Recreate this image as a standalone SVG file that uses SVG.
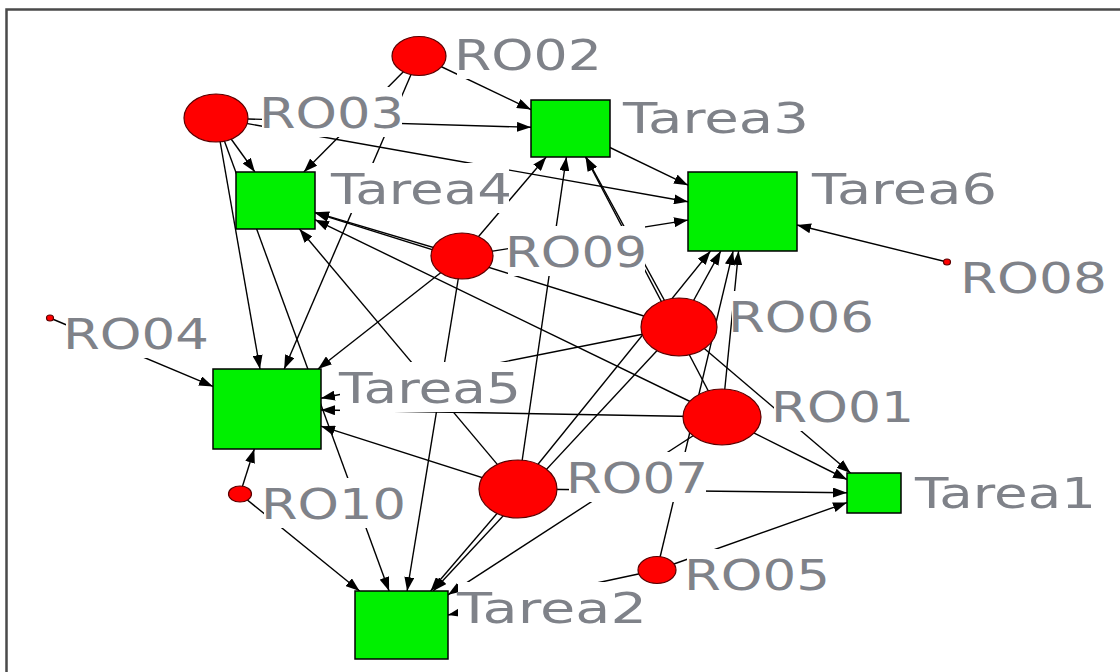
<svg xmlns="http://www.w3.org/2000/svg" width="1120" height="672" viewBox="0 0 1120 672">
<defs>
<marker id="ah" markerWidth="14" markerHeight="10" refX="14" refY="5" orient="auto" markerUnits="userSpaceOnUse"><path d="M0,0 L14,5 L0,10 z" fill="#000"/></marker>
<style>
.e{stroke:#000;stroke-width:1.4;fill:none;marker-end:url(#ah)}
.t{fill:#00f000;stroke:#000;stroke-width:1.5}
.r{fill:#ff0000;stroke:#5a0000;stroke-width:1.2}
.bg{fill:#fff}
.l{font-family:"DejaVu Sans",Verdana,sans-serif;font-size:43px;fill:#7f8289}
</style>
</defs>
<rect width="1120" height="672" fill="#fff"/>
<path d="M6.5,672 V9.5 H1120" fill="none" stroke="#4a4a4a" stroke-width="2.5"/>
<g id="connectors">
<path class="e" d="M679,327 L850.5,473"/>
<path class="e" d="M722,417 L847,479.5"/>
<path class="e" d="M518,489 L847,492.7"/>
<path class="e" d="M657,570 L847,502.6"/>
<path class="e" d="M216,118 L389.1,591"/>
<path class="e" d="M462,256 L407.1,591"/>
<path class="e" d="M240,494 L359.6,591"/>
<path class="e" d="M518,489 L430.6,591"/>
<path class="e" d="M679,327 L433.2,591"/>
<path class="e" d="M722,417 L448,594.8"/>
<path class="e" d="M657,570 L448,615"/>
<path class="e" d="M216,118 L531,127.3"/>
<path class="e" d="M419,56 L531,109.6"/>
<path class="e" d="M462,256 L546.2,157"/>
<path class="e" d="M518,489 L566.4,157"/>
<path class="e" d="M679,327 L586.1,157"/>
<path class="e" d="M722,417 L585.5,157"/>
<path class="e" d="M216,118 L254.9,172"/>
<path class="e" d="M419,56 L303.8,172"/>
<path class="e" d="M462,256 L315,212.3"/>
<path class="e" d="M679,327 L315,212.9"/>
<path class="e" d="M722,417 L315,219.7"/>
<path class="e" d="M518,489 L299.5,229"/>
<path class="e" d="M216,118 L260,369"/>
<path class="e" d="M419,56 L284.2,369"/>
<path class="e" d="M50,318 L213,386.4"/>
<path class="e" d="M462,256 L318,369"/>
<path class="e" d="M518,489 L321,426.2"/>
<path class="e" d="M679,327 L321,398.3"/>
<path class="e" d="M722,417 L321,410"/>
<path class="e" d="M240,494 L254.3,449"/>
<path class="e" d="M216,118 L688,201.8"/>
<path class="e" d="M570.5,128.5 L688,185.2"/>
<path class="e" d="M462,256 L688,220.1"/>
<path class="e" d="M518,489 L710.5,251"/>
<path class="e" d="M679,327 L720.8,251"/>
<path class="e" d="M657,570 L733.1,251"/>
<path class="e" d="M722,417 L738.6,251"/>
<path class="e" d="M947,262 L797,225"/>
</g>
<g id="Tarea1"><rect class="bg" x="919" y="467" width="175" height="50"/><text class="l" x="915" y="508" textLength="181" lengthAdjust="spacingAndGlyphs">Tarea1</text><rect class="t" x="847" y="473" width="54" height="40"/></g>
<g id="Tarea2"><rect class="bg" x="458" y="582" width="186" height="50"/><text class="l" x="457" y="623" textLength="190" lengthAdjust="spacingAndGlyphs">Tarea2</text><rect class="t" x="355" y="591" width="93" height="68"/></g>
<g id="Tarea3"><rect class="bg" x="624" y="92" width="182" height="50"/><text class="l" x="623" y="133" textLength="186" lengthAdjust="spacingAndGlyphs">Tarea3</text><rect class="t" x="531" y="100" width="79" height="57"/></g>
<g id="Tarea4"><rect class="bg" x="332" y="163" width="177" height="50"/><text class="l" x="331" y="204" textLength="181" lengthAdjust="spacingAndGlyphs">Tarea4</text><rect class="t" x="236" y="172" width="79" height="57"/></g>
<g id="Tarea5"><rect class="bg" x="340" y="362" width="178" height="50"/><text class="l" x="339" y="403" textLength="182" lengthAdjust="spacingAndGlyphs">Tarea5</text><rect class="t" x="213" y="369" width="108" height="80"/></g>
<g id="Tarea6"><rect class="bg" x="813" y="163" width="181" height="50"/><text class="l" x="812" y="204" textLength="185" lengthAdjust="spacingAndGlyphs">Tarea6</text><rect class="t" x="688" y="172" width="109" height="79"/></g>
<g id="RO01"><rect class="bg" x="774" y="381" width="138" height="50"/><text class="l" x="771" y="422" textLength="143" lengthAdjust="spacingAndGlyphs">RO01</text><ellipse class="r" cx="722" cy="417" rx="39" ry="28"/></g>
<g id="RO02"><rect class="bg" x="457" y="29" width="143" height="50"/><text class="l" x="454" y="70" textLength="148" lengthAdjust="spacingAndGlyphs">RO02</text><ellipse class="r" cx="419" cy="56" rx="27" ry="19.5"/></g>
<g id="RO03"><rect class="bg" x="262" y="87" width="140" height="50"/><text class="l" x="259" y="128" textLength="145" lengthAdjust="spacingAndGlyphs">RO03</text><ellipse class="r" cx="216" cy="118" rx="32" ry="24"/></g>
<g id="RO04"><rect class="bg" x="66" y="308" width="141" height="50"/><text class="l" x="63" y="349" textLength="146" lengthAdjust="spacingAndGlyphs">RO04</text><ellipse class="r" cx="50" cy="318" rx="3.5" ry="3"/></g>
<g id="RO05"><rect class="bg" x="687" y="549" width="141" height="50"/><text class="l" x="684" y="590" textLength="146" lengthAdjust="spacingAndGlyphs">RO05</text><ellipse class="r" cx="657" cy="570" rx="19" ry="13.5"/></g>
<g id="RO06"><rect class="bg" x="732" y="291" width="140" height="50"/><text class="l" x="728" y="332" textLength="146" lengthAdjust="spacingAndGlyphs">RO06</text><ellipse class="r" cx="679" cy="327" rx="38" ry="29"/></g>
<g id="RO07"><rect class="bg" x="569" y="452" width="137" height="50"/><text class="l" x="566" y="493" textLength="142" lengthAdjust="spacingAndGlyphs">RO07</text><ellipse class="r" cx="518" cy="489" rx="39" ry="29"/></g>
<g id="RO08"><rect class="bg" x="963" y="252" width="142" height="50"/><text class="l" x="960" y="293" textLength="147" lengthAdjust="spacingAndGlyphs">RO08</text><ellipse class="r" cx="947" cy="262" rx="3.5" ry="3"/></g>
<g id="RO09"><rect class="bg" x="508" y="226" width="137" height="50"/><text class="l" x="505" y="267" textLength="142" lengthAdjust="spacingAndGlyphs">RO09</text><ellipse class="r" cx="462" cy="256" rx="31" ry="23"/></g>
<g id="RO10"><rect class="bg" x="264" y="478" width="140" height="50"/><text class="l" x="261" y="519" textLength="145" lengthAdjust="spacingAndGlyphs">RO10</text><ellipse class="r" cx="240" cy="494" rx="11.5" ry="8"/></g>
</svg>
